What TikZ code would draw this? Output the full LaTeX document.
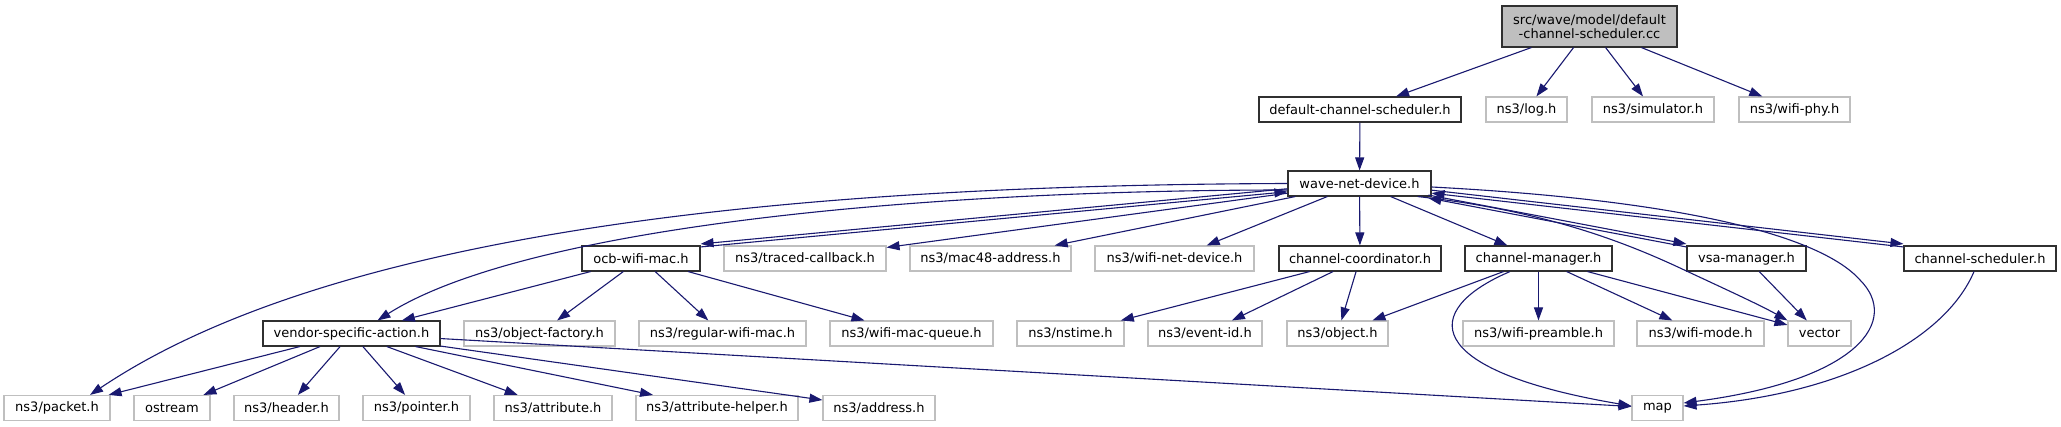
\documentclass[tikz,border=0pt]{standalone}
\usepackage{fontspec}
\setmainfont{DejaVu Sans}
\usetikzlibrary{arrows.meta}
\definecolor{edgeblue}{HTML}{191970}
\definecolor{grayline}{HTML}{BFBFBF}
\definecolor{rootfill}{HTML}{BFBFBF}
\definecolor{darkline}{HTML}{303030}
\begin{document}
\begin{tikzpicture}[x=1pt,y=-1pt,
  nbox/.style={line width=1.1pt, inner sep=0pt, minimum height=25pt, anchor=center,
    font=\fontsize{13}{14.5}\selectfont, text=black},
  dbox/.style={nbox, draw=darkline},
  gbox/.style={nbox, draw=grayline},
  rootbox/.style={nbox, draw=darkline, fill=rootfill, align=center},
  dep/.style={draw=edgeblue, line width=1.1pt, -{Triangle[length=13pt,width=9pt]}},
]
\fill[white] (0,0) rectangle (2061,427);
\useasboundingbox (0,0) rectangle (2061,427);

% nodes
\node[rootbox, minimum width=175pt, minimum height=41pt] (cc) at (1589.5,26.5) {src/wave/model/default\\-channel-scheduler.cc};

\node[dbox, minimum width=202pt] (dcsh) at (1360,109.5) {default-channel-scheduler.h};
\node[gbox, minimum width=81pt] (log) at (1526.5,109.5) {ns3/log.h};
\node[gbox, minimum width=122pt] (sim) at (1653,109.5) {ns3/simulator.h};
\node[gbox, minimum width=111pt] (phy) at (1794.5,109.5) {ns3/wifi-phy.h};

\node[dbox, minimum width=143pt] (wnd) at (1359.5,183.5) {wave-net-device.h};

\node[dbox, minimum width=118pt] (ocb) at (641,258.5) {ocb-wifi-mac.h};
\node[gbox, minimum width=162pt] (traced) at (805,258.5) {ns3/traced-callback.h};
\node[gbox, minimum width=161pt] (mac48) at (990.5,258.5) {ns3/mac48-address.h};
\node[gbox, minimum width=159pt] (wifidev) at (1174.5,258.5) {ns3/wifi-net-device.h};
\node[dbox, minimum width=162pt] (coord) at (1360,258.5) {channel-coordinator.h};
\node[dbox, minimum width=147pt] (cmgr) at (1538.5,258.5) {channel-manager.h};
\node[dbox, minimum width=119pt] (vsam) at (1746.5,258.5) {vsa-manager.h};
\node[dbox, minimum width=152pt] (csch) at (1980,258.5) {channel-scheduler.h};

\node[dbox, minimum width=177pt] (vsa) at (351.5,333.5) {vendor-specific-action.h};
\node[gbox, minimum width=151pt] (objfac) at (539.5,333.5) {ns3/object-factory.h};
\node[gbox, minimum width=167pt] (regmac) at (722.5,333.5) {ns3/regular-wifi-mac.h};
\node[gbox, minimum width=163pt] (macq) at (911.5,333.5) {ns3/wifi-mac-queue.h};
\node[gbox, minimum width=107pt] (nstime) at (1070.5,333.5) {ns3/nstime.h};
\node[gbox, minimum width=114pt] (eventid) at (1205,333.5) {ns3/event-id.h};
\node[gbox, minimum width=101pt] (object) at (1337.5,333.5) {ns3/object.h};
\node[gbox, minimum width=151pt] (preamble) at (1538.5,333.5) {ns3/wifi-preamble.h};
\node[gbox, minimum width=127pt] (wmode) at (1700.5,333.5) {ns3/wifi-mode.h};
\node[gbox, minimum width=63pt] (vector) at (1819.5,333.5) {vector};

\node[gbox, minimum width=106pt] (packet) at (57,408) {ns3/packet.h};
\node[gbox, minimum width=76pt] (ostream) at (172,408) {ostream};
\node[gbox, minimum width=105pt] (header) at (286.5,408) {ns3/header.h};
\node[gbox, minimum width=107pt] (pointer) at (416.5,408) {ns3/pointer.h};
\node[gbox, minimum width=118pt] (attribute) at (553,408) {ns3/attribute.h};
\node[gbox, minimum width=162pt] (attrhelper) at (717,408) {ns3/attribute-helper.h};
\node[gbox, minimum width=112pt] (address) at (879,408) {ns3/address.h};
\node[gbox, minimum width=51pt] (map) at (1657.5,408) {map};

% edges from the root
\draw[dep] (cc) -- (dcsh);
\draw[dep] (cc) -- (log);
\draw[dep] (cc) -- (sim);
\draw[dep] (cc) -- (phy);
\draw[dep] (dcsh) -- (wnd);

% edges from wave-net-device.h
\draw[dep] (wnd.west) .. controls (850,185) and (350,220) .. ([xshift=33pt]packet.north);
\draw[dep] ([yshift=-6.5pt]wnd.west) .. controls (900,190) and (520,230) .. ([xshift=26pt]vsa.north);
\draw[dep, transform canvas={yshift=1.5pt}] (wnd) -- (ocb.north east);
\draw[dep, transform canvas={yshift=-1.5pt}] (ocb.north east) -- (wnd);
\draw[dep] (wnd) -- (traced);
\draw[dep] (wnd) -- (mac48);
\draw[dep] (wnd) -- (wifidev);
\draw[dep] (wnd) -- (coord);
\draw[dep] (wnd) -- (cmgr);
\draw[dep, transform canvas={yshift=1.5pt}] (wnd) -- (vsam.north west);
\draw[dep, transform canvas={yshift=-1.5pt}] (vsam.north west) -- (wnd);
\draw[dep, transform canvas={yshift=1.5pt}] (wnd) -- (csch.north west);
\draw[dep, transform canvas={yshift=-1.5pt}] (csch.north west) -- (wnd);
\draw[dep] ([xshift=-14pt]wnd.south east) .. controls (1540,210) and (1620,240) .. (1680,268)
  .. controls (1725,289) and (1760,305) .. (vector.north west);
\draw[dep] ([yshift=-3.5pt]wnd.east) .. controls (1680,200) and (1820,235) .. (1860,280)
  .. controls (1900,320) and (1860,380) .. ([yshift=5pt]map.east);

% edges from ocb-wifi-mac.h
\draw[dep] (ocb) -- (vsa);
\draw[dep] (ocb) -- (objfac);
\draw[dep] (ocb) -- (regmac);
\draw[dep] (ocb) -- (macq);

% edges from channel-coordinator.h
\draw[dep] (coord) -- (nstime);
\draw[dep] (coord) -- (eventid);
\draw[dep] (coord) -- (object);

% edges from channel-manager.h
\draw[dep] (cmgr) -- (object);
\draw[dep] (cmgr) -- (preamble);
\draw[dep] (cmgr) -- (wmode);
\draw[dep] (cmgr) -- (vector);
\draw[dep] ([xshift=-28.5pt]cmgr.south) .. controls (1420,310) and (1420,370) .. ([yshift=2pt]map.west);

% edges from vsa-manager.h and channel-scheduler.h
\draw[dep] (vsam) -- (vector);
\draw[dep] ([xshift=-6pt]csch.south) .. controls (1945,340) and (1840,395) .. ([yshift=2pt]map.east);

% edges from vendor-specific-action.h
\draw[dep] (vsa) -- (packet);
\draw[dep] (vsa) -- (ostream);
\draw[dep] (vsa) -- (header);
\draw[dep] (vsa) -- (pointer);
\draw[dep] (vsa) -- (attribute);
\draw[dep] (vsa) -- (attrhelper);
\draw[dep] (vsa) -- (address);
\draw[dep] (vsa) -- (map);
\end{tikzpicture}
\end{document}
